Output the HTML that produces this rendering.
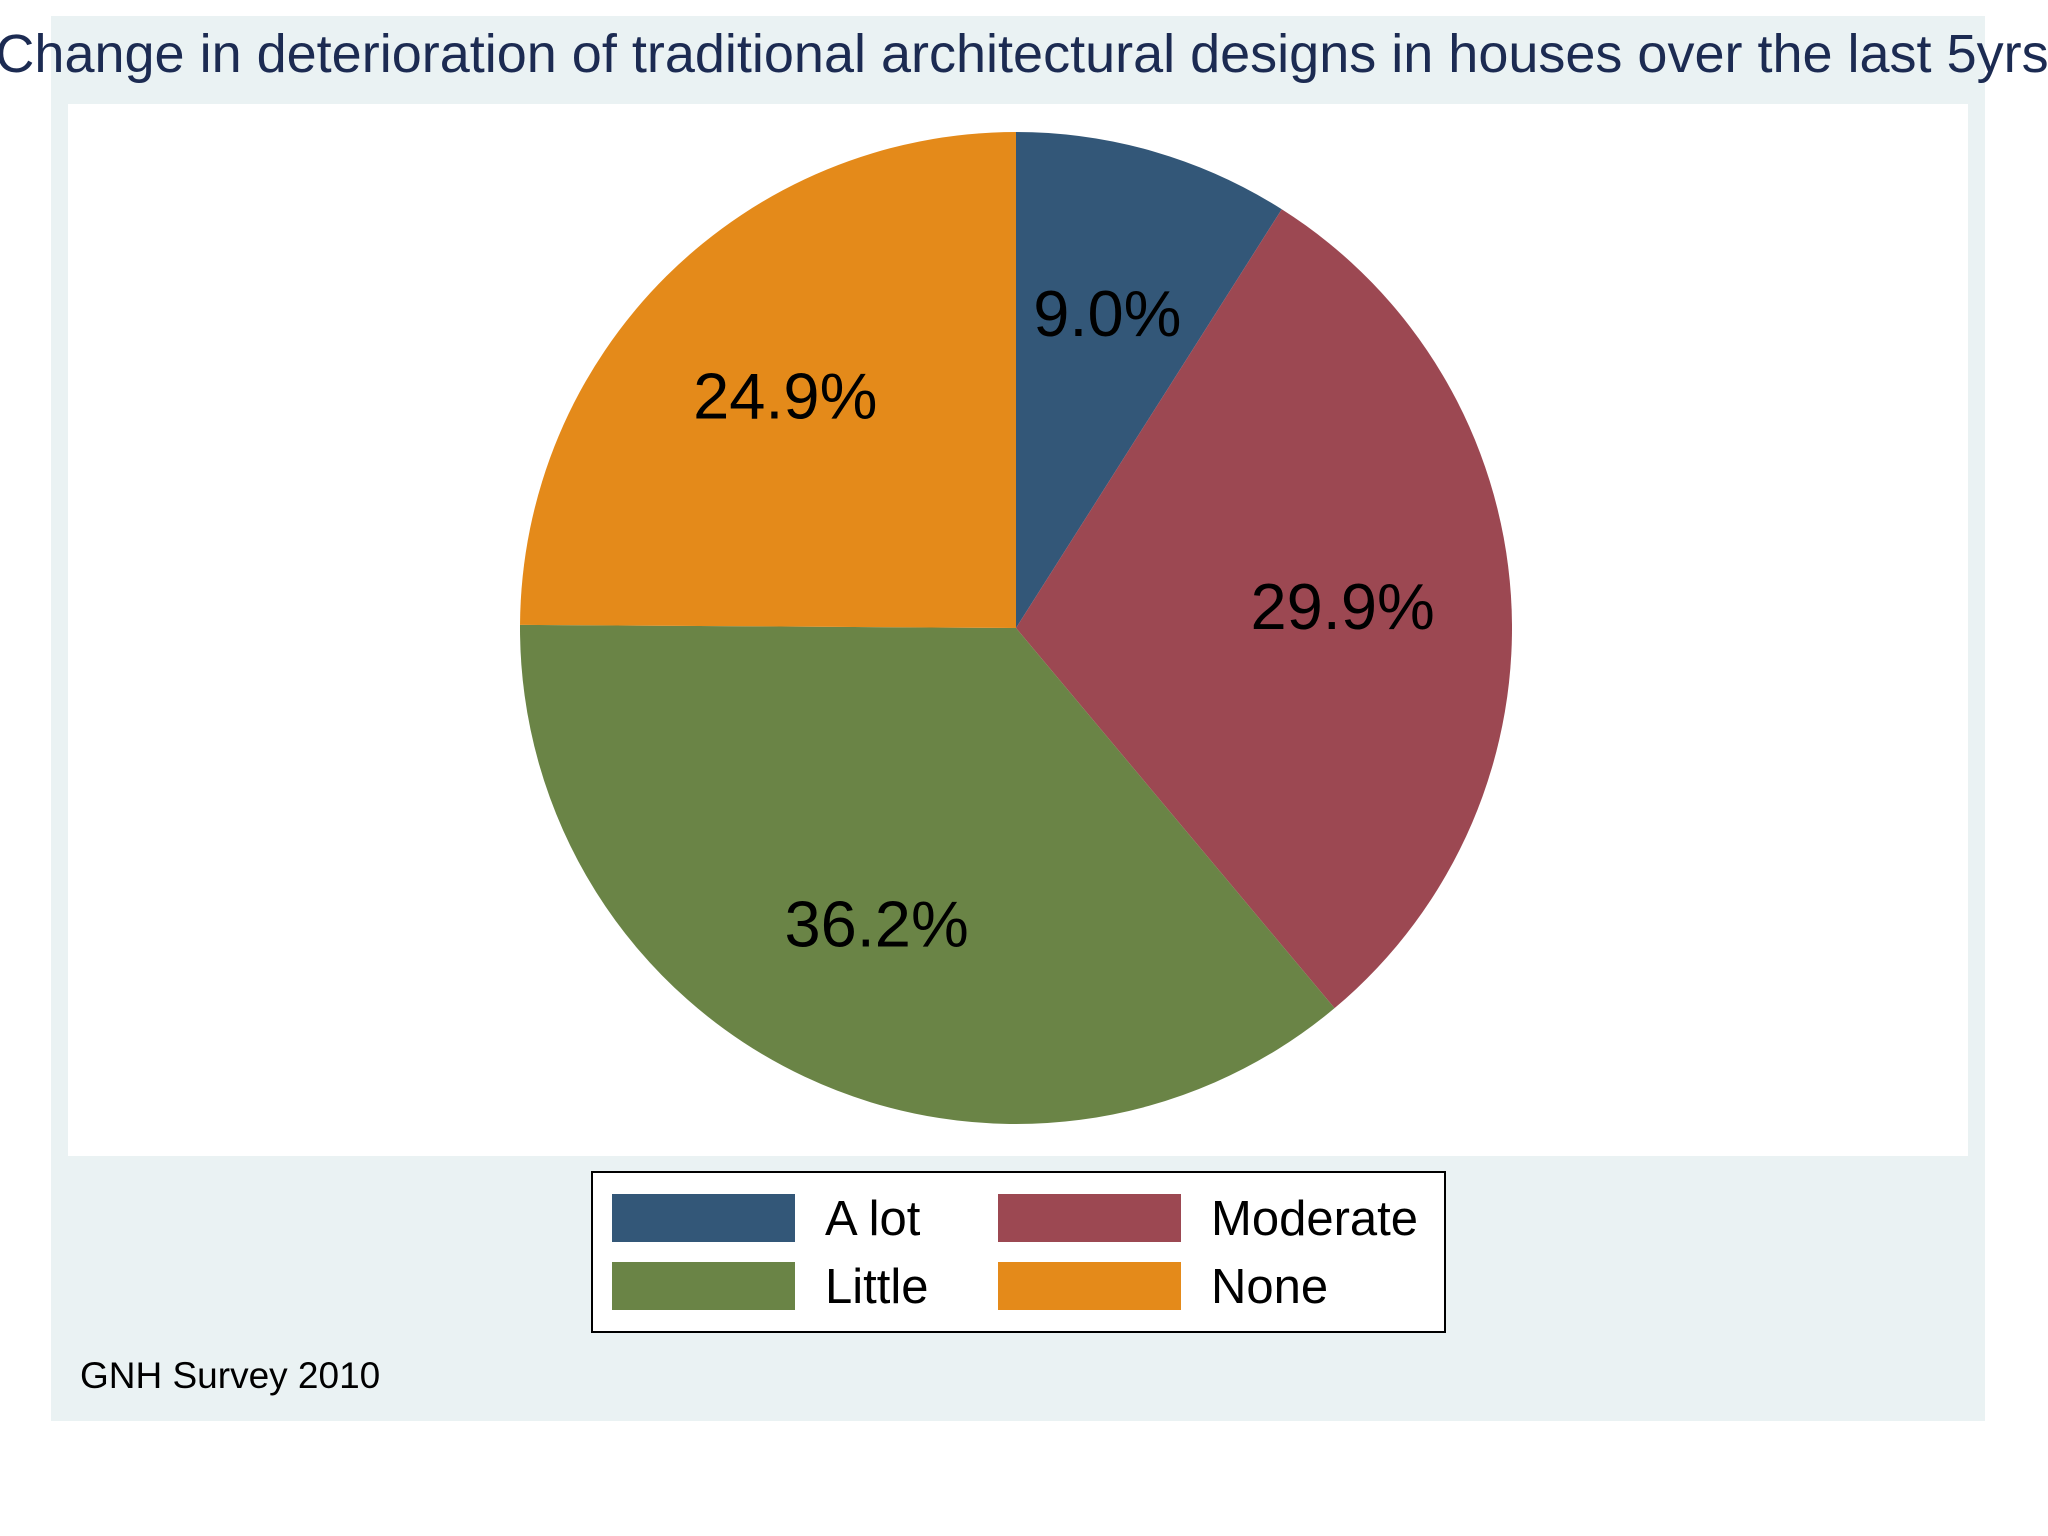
<!DOCTYPE html>
<html><head><meta charset="utf-8"><style>
html,body{margin:0;padding:0;background:#fff;}
svg{display:block;font-family:"Liberation Sans",Arial,sans-serif;}
</style></head><body>
<svg id="chart" width="2048" height="1536" viewBox="0 0 2048 1536">
<rect x="51" y="16" width="1934" height="1405" fill="#eaf2f3"/>
<rect x="68" y="104" width="1900" height="1052" fill="#ffffff"/>
<text x="1022" y="72" text-anchor="middle" font-size="54" fill="#1c2b52">Change in deterioration of traditional architectural designs in houses over the last 5yrs</text>
<g id="slices"></g>
<g id="labels"></g>
<g>
<rect x="592" y="1172" width="853" height="160" fill="#fff" stroke="#000" stroke-width="2"/>
<g id="legend"></g>
</g>
<text x="80" y="1388" font-size="37" fill="#000">GNH Survey 2010</text>
</svg>
<script>
const categories = ["A lot", "Moderate", "Little", "None"];
const values = [9.0, 29.9, 36.2, 24.9];
const colors = ["#335778", "#9c4852", "#6a8446", "#e48a1a"];
const NS = "http://www.w3.org/2000/svg";
const cx = 1016, cy = 628, r = 496;
const total = values.reduce((a, b) => a + b, 0);
function pt(angle, rad) { return [cx + rad * Math.sin(angle), cy - rad * Math.cos(angle)]; }
const gS = document.getElementById("slices"), gL = document.getElementById("labels");
let a0 = 0;
values.forEach((v, i) => {
  const a1 = a0 + v / total * 2 * Math.PI;
  const p0 = pt(a0, r), p1 = pt(a1, r);
  const large = (a1 - a0) > Math.PI ? 1 : 0;
  const path = document.createElementNS(NS, "path");
  path.setAttribute("d", `M${cx},${cy} L${p0[0]},${p0[1]} A${r},${r} 0 ${large} 1 ${p1[0]},${p1[1]} Z`);
  path.setAttribute("fill", colors[i]);
  
  
  gS.appendChild(path);
  const lp = pt((a0 + a1) / 2, r * 0.66);
  const t = document.createElementNS(NS, "text");
  t.setAttribute("x", lp[0]); t.setAttribute("y", lp[1]);
  t.setAttribute("text-anchor", "middle"); t.setAttribute("dominant-baseline", "central");
  t.setAttribute("font-size", "65"); t.setAttribute("fill", "#000");
  t.textContent = v.toFixed(1) + "%";
  
  
  gL.appendChild(t);
  a0 = a1;
});
const gLeg = document.getElementById("legend");
categories.forEach((c, i) => {
  const col = i % 2, row = Math.floor(i / 2);
  const sx = col ? 998 : 612, sy = row ? 1262 : 1194;
  const rc = document.createElementNS(NS, "rect");
  rc.setAttribute("x", sx); rc.setAttribute("y", sy); rc.setAttribute("width", 183); rc.setAttribute("height", 48);
  rc.setAttribute("fill", colors[i]);
  
  
  gLeg.appendChild(rc);
  const t = document.createElementNS(NS, "text");
  t.setAttribute("x", sx + 213); t.setAttribute("y", sy + 41);
  t.setAttribute("font-size", "49"); t.setAttribute("fill", "#000");
  t.textContent = categories[i];
  
  
  gLeg.appendChild(t);
});
</script>
</body></html>
